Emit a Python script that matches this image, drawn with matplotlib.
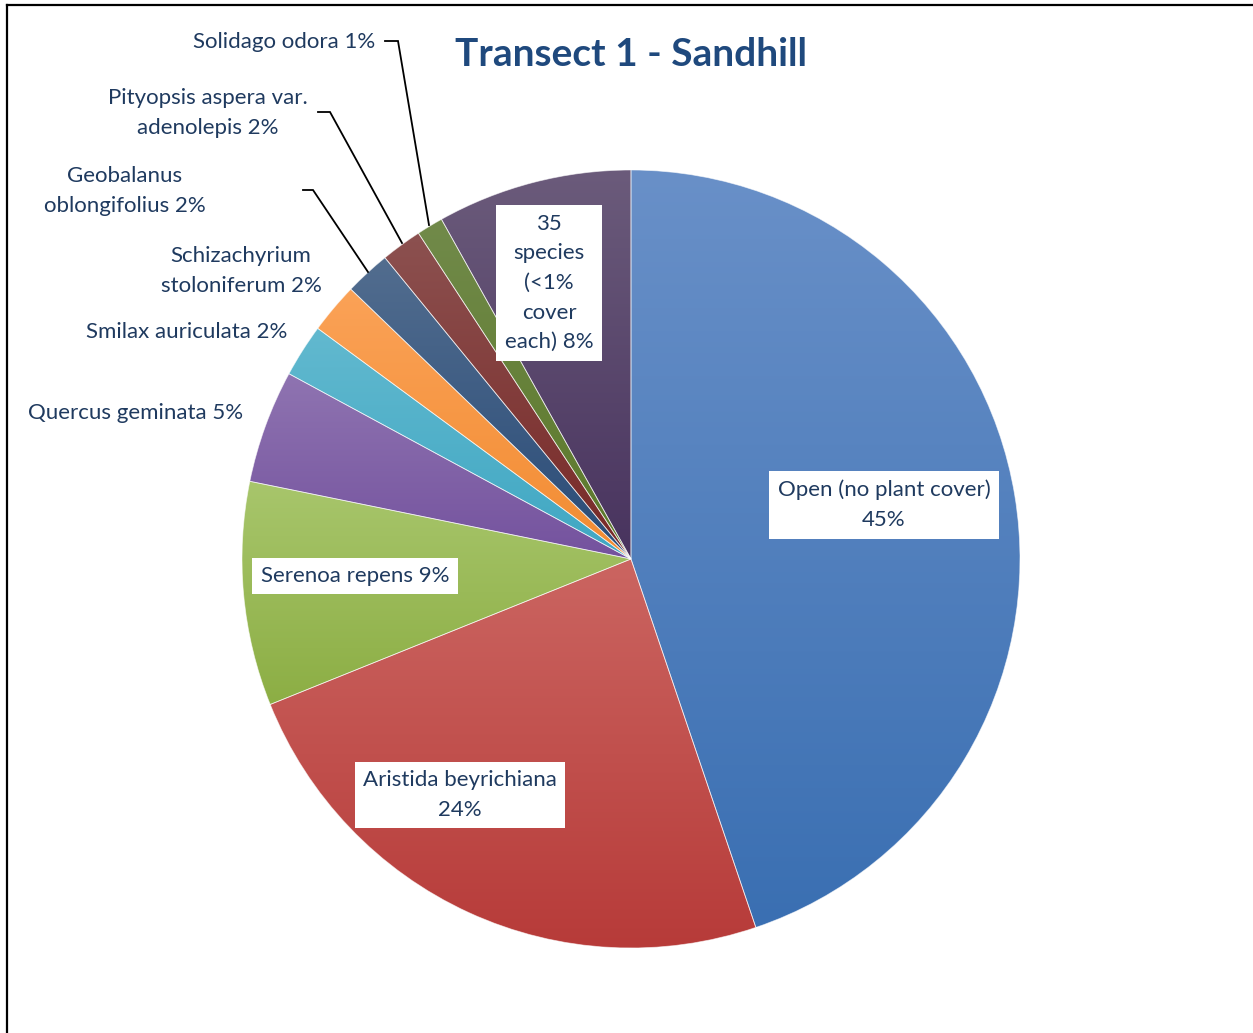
import matplotlib
matplotlib.use("Agg")
import matplotlib.pyplot as plt
import numpy as np
from matplotlib.colors import LinearSegmentedColormap
from matplotlib.lines import Line2D

plt.rcParams["font.family"] = ["Lato", "DejaVu Sans"]

# share of cover (clockwise from 12 o'clock)
species = [
    "Open (no plant cover)\n{}%",
    "Aristida beyrichiana\n{}%",
    "Serenoa repens {}%",
    "Quercus geminata {}%",
    "Smilax auriculata {}%",
    "Schizachyrium\nstoloniferum {}%",
    "Geobalanus\noblongifolius {}%",
    "Pityopsis aspera var.\nadenolepis {}%",
    "Solidago odora {}%",
    "35\nspecies\n(<1%\ncover\neach) {}%",
]
cover = [44.8, 24.1, 9.3, 4.7, 2.2, 2.1, 1.9, 1.7, 1.1, 8.1]

# (top, bottom) gradient colours per slice
grad_top = ["#6990c8", "#cb6561", "#a8c66c", "#8f74b1", "#62b9cf",
            "#fba257", "#526d8f", "#8c5150", "#718a4a", "#6b5b7b"]
grad_bot = ["#3a6fb2", "#b73b39", "#8cae44", "#74529e", "#3fa7c3",
            "#f28c32", "#294b77", "#782826", "#5b7829", "#48335e"]

W, H = 1253, 1033
fig = plt.figure(figsize=(W / 100, H / 100), dpi=100)
ax = fig.add_axes([0, 0, 1, 1])
ax.set_xlim(0, W)
ax.set_ylim(0, H)
ax.axis("off")

cx, cy, r = 631, H - 559, 389
wedges, _ = ax.pie(cover, center=(cx, cy), radius=r, startangle=90,
                   counterclock=False,
                   wedgeprops=dict(linewidth=0.6, edgecolor=(1, 1, 1, 0.6)))
grad = np.linspace(0, 1, 256).reshape(-1, 1)
for w, c0, c1 in zip(wedges, grad_top, grad_bot):
    w.set_facecolor("none")
    ext = w.get_path().get_extents()
    cmap = LinearSegmentedColormap.from_list("g", [c1, c0])
    im = ax.imshow(grad, cmap=cmap, origin="lower", aspect="auto",
                   extent=(ext.x0, ext.x1, ext.y0, ext.y1), zorder=1)
    im.set_clip_path(w)
    w.set_zorder(2)
ax.set_xlim(0, W)
ax.set_ylim(0, H)

txt = "#1f3a5f"
labels = [s.format(round(v)) for s, v in zip(species, cover)]

# label placement (pixel positions from top-left), alignment, boxed
place = [
    (884, 505, "center", True),
    (460, 795, "center", True),
    (355, 576, "center", True),
    (243, 413, "right", False),
    (287, 332, "right", False),
    (241, 271, "center", False),
    (125, 191, "center", False),
    (208, 113, "center", False),
    (375, 42, "right", False),
    (549, 283, "center", True),
]
for lab, (x, y, ha, boxed) in zip(labels, place):
    kw = {}
    if boxed:
        kw["bbox"] = dict(boxstyle="square,pad=0.38", facecolor="white",
                          edgecolor="none")
    ax.text(x, H - y, lab, ha=ha, va="center", multialignment="center",
            fontsize=16, color=txt, linespacing=1.6, zorder=5, **kw)

# leader lines for the small slices
leaders = [
    [(303, 190), (313, 190), (368, 272)],
    [(318, 112), (330, 112), (402, 243)],
    [(385, 41), (398, 41), (429, 225)],
]
for pts in leaders:
    xs = [p[0] for p in pts]
    ys = [H - p[1] for p in pts]
    ax.plot(xs, ys, color="black", lw=1.3, zorder=4, solid_joinstyle="miter")

ax.text(631, H - 54, "Transect 1 - Sandhill", ha="center", va="center",
        fontsize=28, fontweight="bold", color="#1f497d")

# outer frame (left and top edges visible)
fig.add_artist(Line2D([7 / W, 7 / W], [0, 1 - 5 / H], transform=fig.transFigure,
                      color="black", lw=1.6))
fig.add_artist(Line2D([7 / W, 1], [1 - 5 / H, 1 - 5 / H], transform=fig.transFigure,
                      color="black", lw=1.6))

fig.savefig("out.png", dpi=100)
